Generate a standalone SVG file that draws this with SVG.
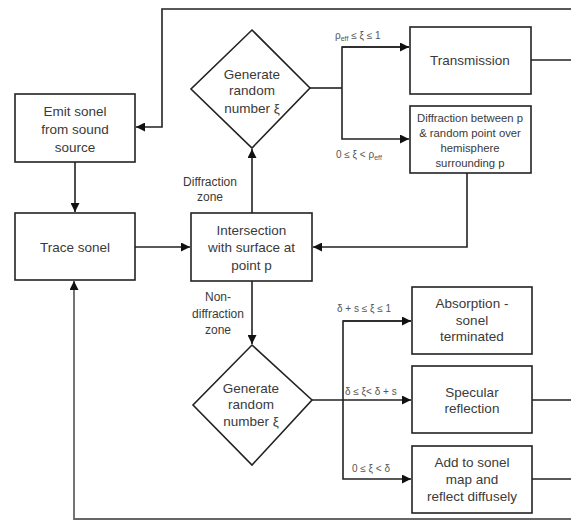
<svg xmlns="http://www.w3.org/2000/svg" width="571" height="521" viewBox="0 0 571 521">
<style>
.box{fill:#fff;stroke:#222;stroke-width:1.6}
.ln{fill:none;stroke:#222;stroke-width:1.6}
.lg{fill:none;stroke:#666;stroke-width:1.8}
.t{font-family:"Liberation Sans",Arial,sans-serif;font-size:13.5px;fill:#3a3a3a;text-anchor:middle}
.s{font-family:"Liberation Sans",Arial,sans-serif;font-size:12px;fill:#3a3a3a;text-anchor:middle}
.d{font-family:"Liberation Sans",Arial,sans-serif;font-size:11.3px;fill:#3a3a3a;text-anchor:middle}
.c{font-family:"Liberation Sans",Arial,sans-serif;font-size:10px;fill:#555}
</style>
<defs>
<marker id="ah" viewBox="0 0 10 10" refX="10" refY="5" markerWidth="10" markerHeight="9" markerUnits="userSpaceOnUse" orient="auto">
<path d="M0,0 L10,5 L0,10 z" fill="#111"/>
</marker>
</defs>
<rect width="571" height="521" fill="#fff"/>
<g id="connectors">
<polyline class="ln" points="571,9 162,9 162,127 136,127" marker-end="url(#ah)"/>
<line class="ln" x1="75" y1="162" x2="75" y2="212" marker-end="url(#ah)"/>
<line class="ln" x1="135" y1="247" x2="190" y2="247" marker-end="url(#ah)"/>
<line class="ln" x1="252" y1="213" x2="252" y2="149" marker-end="url(#ah)"/>
<line class="ln" x1="310" y1="88" x2="342" y2="88"/>
<polyline class="ln" points="409,47 342,47 342,139 409,139" marker-end="url(#ah)"/>
<line class="ln" x1="342" y1="47" x2="409" y2="47" marker-end="url(#ah)"/>
<line class="ln" x1="531" y1="60" x2="571" y2="60"/>
<polyline class="ln" points="467,173 467,247 313,247" marker-end="url(#ah)"/>
<line class="ln" x1="252" y1="281" x2="252" y2="344" marker-end="url(#ah)"/>
<line class="ln" x1="312" y1="400" x2="411" y2="400" marker-end="url(#ah)"/>
<polyline class="ln" points="411,321 343,321 343,479 411,479" marker-end="url(#ah)"/>
<line class="ln" x1="343" y1="321" x2="411" y2="321" marker-end="url(#ah)"/>
<line class="ln" x1="532" y1="400" x2="571" y2="400"/>
<line class="ln" x1="532" y1="479" x2="571" y2="479"/>
<polyline class="lg" points="571,519 74,519 74,281" marker-end="url(#ah)"/>
</g>
<g id="emit">
<rect class="box" x="15" y="94" width="120" height="68"/>
<text class="t" x="75" y="116">Emit sonel</text>
<text class="t" x="75" y="134">from sound</text>
<text class="t" x="75" y="152">source</text>
</g>
<g id="trace">
<rect class="box" x="15" y="213" width="120" height="67"/>
<text class="t" x="75" y="252">Trace sonel</text>
</g>
<g id="intersection">
<rect class="box" x="191" y="213" width="121" height="68"/>
<text class="t" x="251.5" y="235">Intersection</text>
<text class="t" x="251.5" y="252">with surface at</text>
<text class="t" x="251.5" y="270">point p</text>
</g>
<g id="gen1">
<polygon class="box" points="252,30 310,88 252,148 191,89"/>
<text class="t" x="252" y="79">Generate</text>
<text class="t" x="252" y="95">random</text>
<text class="t" x="252" y="113">number ξ</text>
</g>
<g id="transmission">
<rect class="box" x="410" y="27" width="121" height="67"/>
<text class="t" x="470" y="65">Transmission</text>
</g>
<g id="diffraction">
<rect class="box" x="410" y="106" width="121" height="67"/>
<text class="d" x="470" y="122">Diffraction between p</text>
<text class="d" x="470" y="137">&amp; random point over</text>
<text class="d" x="470" y="152">hemisphere</text>
<text class="d" x="470" y="167">surrounding p</text>
</g>
<g id="gen2">
<polygon class="box" points="252,345 312,400 252,465 193,405"/>
<text class="t" x="251" y="393">Generate</text>
<text class="t" x="251" y="409">random</text>
<text class="t" x="251" y="426">number ξ</text>
</g>
<g id="absorption">
<rect class="box" x="412" y="287" width="120" height="67"/>
<text class="t" x="472" y="308">Absorption -</text>
<text class="t" x="472" y="325">sonel</text>
<text class="t" x="472" y="341">terminated</text>
</g>
<g id="specular">
<rect class="box" x="412" y="366" width="120" height="67"/>
<text class="t" x="472" y="397">Specular</text>
<text class="t" x="472" y="413">reflection</text>
</g>
<g id="diffuse">
<rect class="box" x="412" y="446" width="120" height="67"/>
<text class="t" x="472" y="467">Add to sonel</text>
<text class="t" x="472" y="484">map and</text>
<text class="t" x="472" y="501">reflect diffusely</text>
</g>
<g id="labels">
<text class="s" x="210" y="186">Diffraction</text>
<text class="s" x="210" y="201">zone</text>
<text class="s" x="218" y="301">Non-</text>
<text class="s" x="218" y="318">diffraction</text>
<text class="s" x="218" y="334">zone</text>
<text class="c" x="335" y="39">ρ<tspan font-size="7" dy="2">eff</tspan><tspan dy="-2"> ≤ ξ ≤ 1</tspan></text>
<text class="c" x="336" y="158">0 ≤ ξ &lt; ρ<tspan font-size="7" dy="2">eff</tspan></text>
<text class="c" x="337" y="312">δ + s  ≤ ξ ≤ 1</text>
<text class="c" x="345" y="395">δ ≤ ξ&lt; δ + s</text>
<text class="c" x="352" y="472">0 ≤ ξ &lt; δ</text>
</g>
</svg>
